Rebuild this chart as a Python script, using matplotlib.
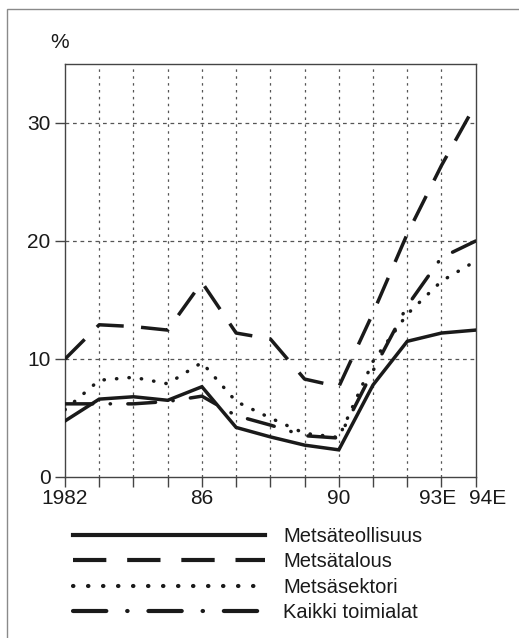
import matplotlib
matplotlib.use("Agg")
import matplotlib.pyplot as plt
from matplotlib.patches import Rectangle
import matplotlib.transforms as mtransforms

plt.rcParams['font.family'] = ['Liberation Sans', 'DejaVu Sans']

years = [1982, 1983, 1984, 1985, 1986, 1987, 1988, 1989, 1990, 1991, 1992, 1993, 1994]
metsateollisuus = [4.75, 6.6, 6.8, 6.5, 7.65, 4.2, 3.4, 2.7, 2.3, 7.8, 11.5, 12.2, 12.45]
metsatalous = [10.0, 12.9, 12.75, 12.45, 16.5, 12.2, 11.7, 8.3, 7.65, 13.9, 20.6, 26.4, 31.6]
metsasektori = [5.7, 8.2, 8.45, 7.9, 9.7, 6.4, 5.0, 3.7, 3.35, 9.8, 13.8, 16.6, 18.3]
kaikki = [6.2, 6.2, 6.2, 6.4, 6.85, 5.2, 4.4, 3.5, 3.3, 9.0, 14.5, 18.6, 20.0]
labels = ["Metsäteollisuus", "Metsätalous", "Metsäsektori", "Kaikki toimialat"]
tick_years = [1982, 1986, 1990, 1993, 1994]
tick_labels = ["1982", "86", "90", "93E", "94E"]
y_ticks = [0, 10, 20, 30]

W, H = 519, 638
fig = plt.figure(figsize=(W / 100, H / 100), dpi=100)
fig.patch.set_facecolor('white')

# outer frame
fig.add_artist(Rectangle((7 / W, -1), 2, 1 + (H - 9) / H, transform=fig.transFigure,
                         fill=False, ec='#8a8a8a', lw=1.0))

ax = fig.add_axes([65 / W, 1 - 477 / H, (475.7 - 65) / W, (477 - 64) / H])
ax.set_xlim(1982, 1994)
ax.set_ylim(0, 35)

# grid
for yr in years[1:-1]:
    ax.axvline(yr, color='#555555', lw=0.9, dashes=(2.0, 3.5), zorder=1)
for yv in y_ticks[1:]:
    ax.axhline(yv, color='#555555', lw=0.9, dashes=(3.0, 3.0), zorder=1)

lw = 2.5
c = '#1a1a1a'
l1, = ax.plot(years, metsateollisuus, color=c, lw=lw, solid_joinstyle='miter', zorder=3)
l2, = ax.plot(years, metsatalous, color=c, lw=lw, dashes=(8.0, 5.0), dash_capstyle='butt', zorder=3)
l3, = ax.plot(years, metsasektori, color=c, lw=lw, dashes=(0.1, 3.5), dash_capstyle='round', zorder=3)
l4, = ax.plot(years, kaikki, color=c, lw=lw, dashes=(8, 5.0, 0.1, 5.0), dash_capstyle='round', zorder=3)

for s in ax.spines.values():
    s.set_color('#444444')
    s.set_linewidth(1.0)

ax.set_yticks(y_ticks)
ax.set_yticklabels([str(v) for v in y_ticks])
ax.set_xticks(years)
ax.set_xticklabels([tick_labels[tick_years.index(y)] if y in tick_years else "" for y in years])
ax.tick_params(axis='both', direction='out', length=7, width=1.0, color='#444444',
               labelsize=15, labelcolor='#1a1a1a')
ax.tick_params(axis='y', pad=3.4)
ax.tick_params(axis='x', pad=2)

# shift the crowded end labels like the original
offsets = {"93E": -4, "94E": 12}
for lab in ax.get_xticklabels():
    t = lab.get_text()
    if t in offsets:
        lab.set_transform(lab.get_transform() + mtransforms.ScaledTranslation(offsets[t] / 100, 0, fig.dpi_scale_trans))

fig.text(60 / W, 1 - 42 / H, "%", ha='center', va='center', fontsize=15, color='#1a1a1a')

leg = fig.legend([l1, l2, l3, l4], labels, loc='upper left',
                 bbox_to_anchor=(73 / W, 1 - 527 / H), bbox_transform=fig.transFigure,
                 frameon=False, fontsize=14.5, handlelength=9.55, handletextpad=0.9,
                 labelspacing=0.32, borderpad=0, borderaxespad=0)
for t in leg.get_texts():
    t.set_color('#1a1a1a')
for h in leg.get_lines():
    h.set_linewidth(3.0)

fig.savefig("out.png", dpi=100, facecolor='white')
